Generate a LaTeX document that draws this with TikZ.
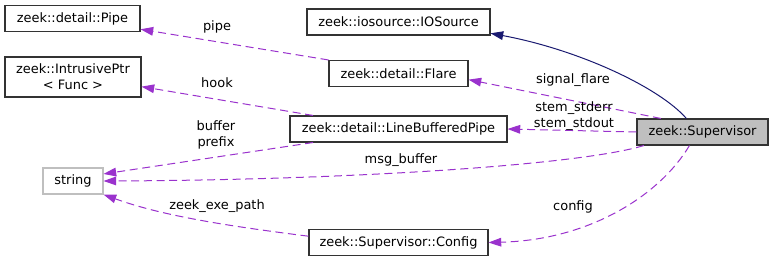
\documentclass[tikz,border=0pt]{standalone}
\usepackage{fontspec}
\setmainfont{DejaVu Sans}
\usetikzlibrary{arrows.meta}
\definecolor{memcol}{HTML}{9A32CD}
\definecolor{inhcol}{HTML}{191970}
\definecolor{boxgray}{HTML}{BFBFBF}
\begin{document}
\begin{tikzpicture}[x=0.75pt,y=-0.75pt,font=\fontsize{9.7}{12}\selectfont,
  cls/.style={draw=black!80,line width=0.8pt,inner sep=0pt,minimum height=19.5pt,align=center},
  mem/.style={memcol,line width=0.75pt,dash pattern=on 6pt off 3.5pt,-{Triangle[length=9.5pt,width=6.5pt]}},
  inh/.style={inhcol,line width=0.75pt,-{Triangle[length=9.5pt,width=6.5pt]}},
  lbl/.style={inner sep=0pt,align=center}]
  \useasboundingbox (0,0) rectangle (773,261);
  % classes
  \node[cls,minimum width=101.25pt] (pipe) at (72.5,18.5) {zeek::detail::Pipe};
  \node[cls,minimum width=102pt,minimum height=30pt] (iptr) at (73,77) {zeek::IntrusivePtr\\< Func >};
  \node[cls,draw=boxgray,minimum width=45pt] (str) at (73,181) {string};
  \node[cls,minimum width=137.25pt] (ios) at (398.5,22) {zeek::iosource::IOSource};
  \node[cls,minimum width=104.25pt] (flare) at (398.5,73.5) {zeek::detail::Flare};
  \node[cls,minimum width=162.75pt] (lbp) at (398.5,129) {zeek::detail::LineBufferedPipe};
  \node[cls,fill=boxgray,minimum width=98.25pt] (sup) at (702.5,132) {zeek::Supervisor};
  \node[cls,minimum width=134.25pt] (cfg) at (398.5,242.5) {zeek::Supervisor::Config};
  % base class and members
  \draw[inh] (sup.140) .. controls (660,88) and (580,50) .. (ios.-7);
  \draw[mem] (sup.162) -- (flare.-5);
  \draw[mem] (flare.north west) -- (pipe.-9);
  \draw[mem] (lbp.171) -- (iptr.-8);
  \draw[mem] (lbp.189) -- (str.13);
  \draw[mem] (sup.west) -- (lbp.east);
  \draw[mem] (sup.193) .. controls (580,165) and (350,180) .. (str.east);
  \draw[mem] (sup.226) .. controls (660,195) and (590,240) .. (cfg.east);
  \draw[mem] (cfg.176) .. controls (220,225) and (160,215) .. (str.south east);
  % member names
  \node[lbl] (lsig) at (573,80) {signal\_flare};
  \node[lbl] (lpipe) at (217,27) {pipe};
  \node[lbl] (lhook) at (217,83) {hook};
  \node[lbl] (lbuf) at (216,135) {buffer\\prefix};
  \node[lbl] (lstem) at (574,116) {stem\_stderr\\stem\_stdout};
  \node[lbl] (lmsg) at (401,160) {msg\_buffer};
  \node[lbl] (lcfg) at (573,207) {config};
  \node[lbl] (lexe) at (217,206) {zeek\_exe\_path};
\end{tikzpicture}
\end{document}
